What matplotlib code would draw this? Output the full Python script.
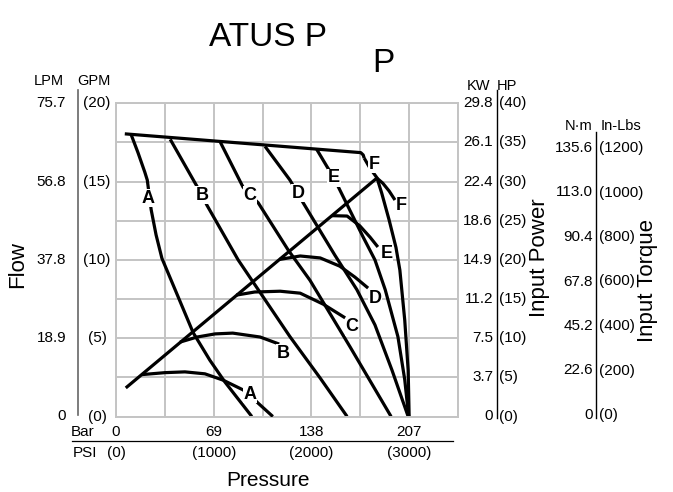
import numpy as np
import matplotlib.pyplot as plt
from matplotlib.transforms import blended_transform_factory

plt.rcParams['font.family'] = ['Liberation Sans', 'DejaVu Sans']

# axis scales
psi_ticks = [0, 1000, 2000, 3000]
bar_labels = ['0', '69', '138', '207']
psi_labels = ['(0)', '(1000)', '(2000)', '(3000)']
gpm_ticks = [0, 5, 10, 15, 20]
lpm_labels = ['0', '18.9', '37.8', '56.8', '75.7']
gpm_labels = ['(0)', '(5)', '(10)', '(15)', '(20)']
hp_ticks = [0, 5, 10, 15, 20, 25, 30, 35, 40]
kw_labels = ['0', '3.7', '7.5', '11.2', '14.9', '18.6', '22.4', '26.1', '29.8']
hp_labels = ['(0)', '(5)', '(10)', '(15)', '(20)', '(25)', '(30)', '(35)', '(40)']
torque_ticks = [0, 200, 400, 600, 800, 1000, 1200]
nm_labels = ['0', '22.6', '45.2', '67.8', '90.4', '113.0', '135.6']
inlb_labels = ['(0)', '(200)', '(400)', '(600)', '(800)', '(1000)', '(1200)']

# max flow envelope (psi, gpm)
top_psi = [90, 2505, 2530, 2540]
top_gpm = [18.05, 16.85, 16.7, 16.5]

# flow curves (psi, gpm)
flow_A_psi = [155, 225, 295, 320, 340, 360, 410, 470, 605, 790, 960, 1115, 1390]
flow_A_gpm = [18.0, 16.85, 15.6, 15.1, 14.15, 13.2, 11.6, 10.1, 8.1, 5.35, 3.6, 2.2, 0]
flow_B_psi = [555, 810, 880, 930, 1250, 1515, 1780, 2090, 2365]
flow_B_gpm = [17.7, 14.9, 14.15, 13.5, 10.0, 7.55, 5.1, 2.45, 0]
flow_C_psi = [1065, 1300, 1370, 1455, 1760, 1985, 2395, 2815]
flow_C_gpm = [17.55, 14.65, 14.15, 13.65, 10.65, 8.7, 4.45, 0]
flow_D_psi = [1525, 1780, 1860, 1915, 2240, 2465, 2650, 2825, 2990]
flow_D_gpm = [17.25, 15.1, 14.25, 13.65, 10.3, 8.1, 5.85, 2.95, 0]
flow_E_psi = [2055, 2160, 2230, 2280, 2530, 2650, 2755, 2885, 2955, 2995]
flow_E_gpm = [17.05, 15.95, 15.25, 14.6, 11.45, 10.0, 8.1, 5.1, 2.35, 0]
flow_F_psi = [2540, 2600, 2670, 2720, 2795, 2865, 2905, 2955, 2990, 3000]
flow_F_gpm = [16.5, 15.85, 15.25, 14.25, 12.55, 10.8, 9.35, 6.15, 2.95, 0]

# input power curves (psi, hp)
diag_psi = [100, 2670]
diag_hp = [3.65, 30.45]
power_A_psi = [265, 500, 705, 910, 1095, 1300, 1370, 1455, 1605]
power_A_hp = [5.35, 5.6, 5.7, 5.45, 4.65, 3.4, 2.75, 1.7, 0]
power_B_psi = [655, 830, 1015, 1195, 1475, 1670]
power_B_hp = [9.5, 10.15, 10.55, 10.65, 10.15, 9.25]
power_C_psi = [1230, 1420, 1680, 1885, 2120, 2345]
power_C_hp = [15.5, 15.9, 16.0, 15.75, 14.35, 12.6]
power_D_psi = [1670, 1885, 2090, 2290, 2445, 2580]
power_D_hp = [20.05, 20.5, 20.25, 19.2, 17.8, 16.4]
power_E_psi = [2210, 2365, 2495, 2600, 2680]
power_E_hp = [25.65, 25.6, 24.35, 22.9, 21.65]
power_F_psi = [2670, 2730, 2795, 2855]
power_F_hp = [30.45, 29.8, 28.8, 27.65]

# curve labels
names = ['A', 'B', 'C', 'D', 'E', 'F']
flow_lbl_psi = [327, 880, 1371, 1862, 2231, 2640]
flow_lbl_gpm = [13.95, 14.14, 14.14, 14.27, 15.23, 16.1]
power_lbl_psi = [1371, 1712, 2412, 2650, 2770, 2923]
power_lbl_hp = [2.85, 8.07, 11.47, 15.1, 20.84, 27.0]

W, H = 673, 492
fig = plt.figure(figsize=(W / 100, H / 100), dpi=100)

# plot box in pixels: x 116..458, y 103.3..416.5
L, R, T, B = 116, 458, 103.3, 416.5
ax = fig.add_axes([L / W, 1 - B / H, (R - L) / W, (B - T) / H])
ax.set_xlim(0, 3500)
ax.set_ylim(0, 20)
ax.set_xticks(np.arange(0, 3501, 500))
ax.set_yticks(np.arange(0, 20.01, 2.5))
ax.grid(color='#c4c4c4', lw=1.4)
ax.set_axisbelow(True)
ax.tick_params(length=0, labelbottom=False, labelleft=False)
for s in ax.spines.values():
    s.set_color('#c4c4c4')
    s.set_linewidth(1.4)

ax2 = ax.twinx()
ax2.set_ylim(0, 40)
ax2.axis('off')

ax3 = fig.add_axes([L / W, 1 - 415 / H, (R - L) / W, 267 / H])
ax3.set_xlim(0, 3500)
ax3.set_ylim(0, 1200)
ax3.axis('off')
ax3.patch.set_visible(False)

lw = 2.3
kw = dict(color='black', lw=lw, solid_joinstyle='round', solid_capstyle='butt')
ax.plot(top_psi, top_gpm, **kw)
for xs, ys in [(flow_A_psi, flow_A_gpm), (flow_B_psi, flow_B_gpm), (flow_C_psi, flow_C_gpm),
               (flow_D_psi, flow_D_gpm), (flow_E_psi, flow_E_gpm), (flow_F_psi, flow_F_gpm)]:
    ax.plot(xs, ys, **kw)
ax2.plot(diag_psi, diag_hp, **kw)
for xs, ys in [(power_A_psi, power_A_hp), (power_B_psi, power_B_hp), (power_C_psi, power_C_hp),
               (power_D_psi, power_D_hp), (power_E_psi, power_E_hp), (power_F_psi, power_F_hp)]:
    ax2.plot(xs, ys, **kw)

lbl = dict(fontsize=13, fontweight='bold', ha='center', va='center', zorder=10,
           bbox=dict(facecolor='white', edgecolor='none', pad=0.4))
for n, x, y in zip(names, flow_lbl_psi, flow_lbl_gpm):
    ax2.text(x, y, n, transform=ax.transData, **lbl)
for n, x, y in zip(names, power_lbl_psi, power_lbl_hp):
    ax2.text(x, y, n, **lbl)


def xa(px):
    return (px - L) / (R - L)


fs = 11
# flow scale (left)
trL = blended_transform_factory(ax.transAxes, ax.transData)
for g, a, b in zip(gpm_ticks, lpm_labels, gpm_labels):
    ax.text(xa(66), g, a, transform=trL, ha='right', va='center', fontsize=fs)
    ax.text(xa(97), g, b, transform=trL, ha='center', va='center', fontsize=fs)
ax.plot([xa(78), xa(78)], [0.1, 20.85], transform=trL, color='#666666', lw=1.2, clip_on=False)

# power scale (right)
trP = blended_transform_factory(ax2.transAxes, ax2.transData)
for h, a, b in zip(hp_ticks, kw_labels, hp_labels):
    ax2.text(xa(493), h, a, transform=trP, ha='right', va='center', fontsize=fs)
    ax2.text(xa(499), h, b, transform=trP, ha='left', va='center', fontsize=fs)
ax2.plot([xa(497), xa(497)], [-0.2, 41.7], transform=trP, color='black', lw=1.0, clip_on=False)

# torque scale
trT = blended_transform_factory(ax3.transAxes, ax3.transData)
for t, a, b in zip(torque_ticks, nm_labels, inlb_labels):
    ax3.text(xa(593), t, a, transform=trT, ha='right', va='center', fontsize=fs)
    ax3.text(xa(599), t, b, transform=trT, ha='left', va='center', fontsize=fs)
ax3.plot([xa(596), xa(596)], [-14, 1273], transform=trT, color='black', lw=1.0, clip_on=False)

# pressure scale (bottom)
trB = blended_transform_factory(ax.transData, fig.transFigure)
for p, a, b in zip(psi_ticks, bar_labels, psi_labels):
    ax.text(p, 1 - 431.7 / H, a, transform=trB, ha='center', va='center', fontsize=fs)
    ax.text(p, 1 - 453.3 / H, b, transform=trB, ha='center', va='center', fontsize=fs)
fig.add_artist(plt.Line2D([72 / W, 453 / W], [1 - 441 / H] * 2, color='black', lw=0.9))
fig.text(95 / W, 1 - 431.7 / H, 'Bar', ha='right', va='center', fontsize=fs)
fig.text(97 / W, 1 - 453.3 / H, 'PSI', ha='right', va='center', fontsize=fs)

# headers
fig.text(49 / W, 1 - 81 / H, 'LPM', ha='center', va='center', fontsize=10.5)
fig.text(94 / W, 1 - 81 / H, 'GPM', ha='center', va='center', fontsize=10.5)
fig.text(479 / W, 1 - 86 / H, 'KW', ha='center', va='center', fontsize=10.5)
fig.text(507 / W, 1 - 86 / H, 'HP', ha='center', va='center', fontsize=10.5)
fig.text(579 / W, 1 - 126 / H, 'N\u00b7m', ha='center', va='center', fontsize=10.5)
fig.text(621 / W, 1 - 126 / H, 'In-Lbs', ha='center', va='center', fontsize=10.5)

# axis titles
fig.text(18 / W, 1 - 265 / H, 'Flow', rotation=90, ha='center', va='center', fontsize=16)
fig.text(540 / W, 1 - 258 / H, 'Input Power', rotation=90, ha='center', va='center', fontsize=16)
fig.text(647 / W, 1 - 281 / H, 'Input Torque', rotation=90, ha='center', va='center', fontsize=16)
fig.text(268 / W, 1 - 480 / H, 'Pressure', ha='center', va='center', fontsize=15)

# title
fig.text(268 / W, 1 - 46 / H, 'ATUS P', ha='center', va='baseline', fontsize=24)
fig.text(383 / W, 1 - 72 / H, 'P', ha='center', va='baseline', fontsize=24)

fig.savefig('out.png', dpi=100)
